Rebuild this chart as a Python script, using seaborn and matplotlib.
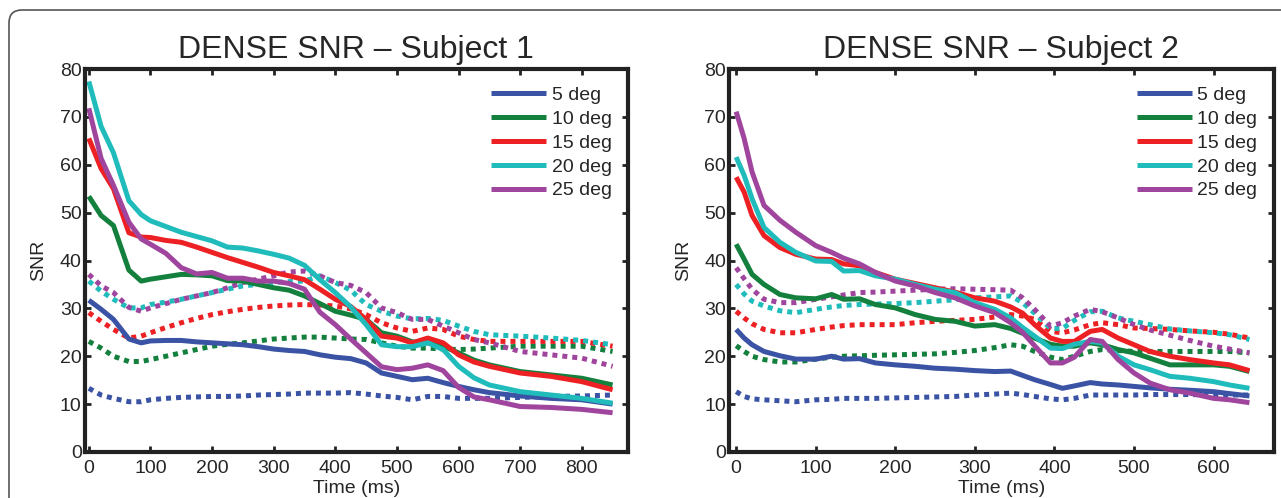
import numpy as np
import pandas as pd
import matplotlib
matplotlib.use("Agg")
import matplotlib.pyplot as plt
from matplotlib.patches import FancyBboxPatch
import seaborn as sns

# ---------------- data ----------------
ANGLES = ["5 deg", "10 deg", "15 deg", "20 deg", "25 deg"]
COLORS = ["#3b53a4", "#14803e", "#ed2024", "#20bcbc", "#a0459e"]

L_TIME = [0, 20, 40, 65, 85, 100, 125, 150, 175, 200, 225, 250, 275, 300, 325, 350,
          375, 400, 425, 450, 475, 500, 525, 550, 575, 600, 625, 650, 700, 750, 800, 850]

L_SOLID_5 = [31.7, 29.8, 27.7, 23.6, 22.8, 23.2, 23.3, 23.3, 23.0, 22.8, 22.6, 22.4, 22.0, 21.5, 21.2, 21.0,
             20.3, 19.8, 19.5, 18.6, 16.5, 15.8, 15.1, 15.4, 14.5, 13.7, 13.0, 12.4, 11.7, 11.2, 10.9, 10.0]
L_SOLID_10 = [53.4, 49.4, 47.3, 38.0, 35.7, 36.1, 36.6, 37.1, 37.0, 36.8, 35.8, 35.7, 35.0, 34.3, 33.8, 32.6,
              31.0, 29.4, 28.6, 27.7, 24.9, 24.2, 23.0, 22.8, 22.1, 20.7, 19.2, 18.2, 16.8, 16.1, 15.4, 14.0]
L_SOLID_15 = [65.5, 59.2, 55.0, 45.8, 44.9, 44.8, 44.2, 43.8, 42.8, 41.7, 40.6, 39.6, 38.6, 37.5, 36.8, 36.0,
              34.0, 31.9, 30.4, 27.7, 24.2, 23.8, 22.8, 23.8, 22.8, 20.3, 18.8, 17.9, 16.5, 15.8, 14.7, 13.0]
L_SOLID_20 = [77.4, 68.0, 62.5, 52.5, 49.6, 48.3, 47.1, 45.9, 45.0, 44.1, 42.8, 42.6, 42.0, 41.3, 40.5, 39.0,
              36.0, 33.3, 30.3, 26.6, 22.4, 22.0, 22.0, 22.8, 21.4, 17.9, 15.5, 14.0, 12.6, 11.9, 11.2, 10.2]
L_SOLID_25 = [71.8, 61.3, 55.7, 48.0, 44.5, 43.4, 41.5, 38.5, 37.2, 37.5, 36.3, 36.3, 35.7, 35.7, 35.2, 34.0,
              29.2, 26.6, 23.6, 20.7, 17.8, 17.2, 17.5, 18.2, 17.0, 13.5, 11.5, 10.9, 9.5, 9.3, 8.9, 8.2]

L_DOT_5 = [13.3, 11.9, 11.2, 10.5, 10.5, 10.9, 11.2, 11.4, 11.5, 11.6, 11.6, 11.7, 11.9, 12.0, 12.1, 12.3,
           12.3, 12.3, 12.4, 12.1, 11.7, 11.4, 10.9, 11.6, 11.6, 11.2, 11.2, 11.2, 11.4, 11.6, 11.7, 11.9]
L_DOT_10 = [23.1, 21.7, 20.0, 18.9, 18.9, 19.3, 20.0, 20.7, 21.4, 22.1, 22.5, 22.8, 23.2, 23.6, 23.8, 24.0,
            24.0, 23.8, 23.6, 23.5, 22.8, 22.1, 21.7, 21.7, 21.5, 21.4, 21.5, 21.7, 22.1, 22.1, 22.1, 21.0]
L_DOT_15 = [29.1, 27.3, 25.6, 23.8, 24.2, 24.9, 26.0, 27.0, 27.9, 28.7, 29.3, 29.8, 30.2, 30.5, 30.7, 30.8,
            30.7, 30.5, 29.9, 28.7, 27.0, 25.9, 25.2, 25.9, 25.6, 24.2, 23.5, 23.1, 23.1, 23.1, 23.1, 22.1]
L_DOT_20 = [35.7, 33.6, 31.9, 30.1, 30.1, 30.8, 31.3, 31.9, 32.6, 33.3, 34.0, 34.7, 35.0, 35.4, 35.6, 35.7,
            36.8, 35.4, 33.8, 30.8, 29.4, 28.4, 27.8, 27.9, 27.5, 26.3, 25.2, 24.5, 24.2, 23.8, 23.3, 22.4]
L_DOT_25 = [37.1, 34.7, 33.3, 30.2, 29.4, 30.1, 31.0, 31.9, 32.6, 33.3, 34.3, 35.4, 36.1, 36.8, 37.6, 37.8,
            36.8, 35.4, 34.8, 33.3, 30.1, 29.1, 27.7, 27.7, 26.3, 24.9, 23.5, 22.8, 21.0, 20.3, 19.6, 17.9]

R_TIME = [0, 10, 20, 35, 55, 75, 100, 120, 135, 155, 175, 200, 225, 250, 275, 300, 325,
          345, 360, 375, 395, 410, 425, 445, 460, 480, 500, 520, 545, 570, 600, 620, 645]

R_SOLID_5 = [25.6, 23.8, 22.4, 21.0, 20.1, 19.4, 19.4, 20.0, 19.4, 19.5, 18.6, 18.2, 17.9, 17.5, 17.3, 17.0, 16.8,
             16.9, 16.0, 15.1, 14.1, 13.3, 13.8, 14.5, 14.2, 14.0, 13.7, 13.4, 13.1, 12.9, 12.6, 12.2, 11.7]
R_SOLID_10 = [43.4, 40.3, 37.1, 35.0, 32.9, 32.2, 32.0, 32.9, 31.9, 32.0, 30.8, 30.1, 28.7, 27.7, 27.3, 26.3, 26.6,
              25.8, 24.8, 23.8, 22.5, 22.1, 22.1, 22.8, 22.4, 21.4, 20.7, 19.6, 18.2, 18.2, 18.2, 17.9, 16.8]
R_SOLID_15 = [57.4, 54.3, 49.4, 45.2, 42.7, 41.3, 40.3, 40.2, 39.3, 38.9, 37.5, 36.1, 35.2, 34.3, 33.4, 32.2, 31.5,
              30.3, 29.0, 26.6, 23.8, 23.1, 23.1, 25.2, 25.6, 23.8, 22.4, 21.0, 20.0, 19.3, 18.6, 18.2, 17.0]
R_SOLID_20 = [61.6, 57.8, 52.9, 46.9, 43.8, 41.7, 39.9, 39.8, 37.8, 37.9, 36.8, 36.1, 35.0, 34.0, 33.3, 31.2, 29.8,
              28.0, 26.0, 24.2, 21.7, 21.6, 22.5, 23.1, 22.8, 20.0, 18.2, 17.2, 15.8, 15.4, 14.7, 14.0, 13.3]
R_SOLID_25 = [71.1, 65.5, 58.5, 51.5, 48.4, 45.9, 43.1, 41.7, 40.5, 39.3, 37.5, 35.7, 34.7, 33.3, 32.2, 30.5, 29.1,
              27.0, 25.0, 22.2, 18.6, 18.6, 19.8, 23.5, 23.1, 19.3, 16.5, 14.4, 13.0, 12.3, 11.2, 10.9, 10.3]

R_DOT_5 = [12.6, 11.6, 11.1, 10.9, 10.7, 10.5, 10.9, 11.0, 11.2, 11.2, 11.2, 11.3, 11.4, 11.5, 11.6, 11.9, 12.1,
           12.3, 12.0, 11.6, 11.1, 10.9, 11.2, 11.9, 11.9, 11.9, 11.9, 12.0, 12.0, 12.0, 11.9, 11.9, 11.9]
R_DOT_10 = [22.2, 21.0, 20.0, 19.3, 18.8, 18.8, 19.4, 19.8, 20.0, 20.1, 20.2, 20.3, 20.4, 20.5, 20.8, 21.2, 21.8,
            22.4, 22.1, 21.0, 19.8, 19.3, 20.0, 21.0, 21.4, 21.2, 21.0, 21.0, 21.0, 21.0, 21.0, 21.0, 20.7]
R_DOT_15 = [29.4, 28.0, 26.8, 25.6, 24.9, 24.9, 25.6, 26.1, 26.4, 26.6, 26.6, 26.6, 27.0, 27.3, 27.5, 27.7, 28.2,
            28.7, 28.4, 27.7, 25.2, 24.9, 25.5, 26.6, 27.0, 26.6, 25.9, 25.8, 25.6, 25.3, 25.0, 24.6, 23.8]
R_DOT_20 = [35.0, 33.0, 31.5, 30.5, 29.5, 29.1, 29.8, 30.3, 30.6, 30.8, 30.9, 31.0, 31.2, 31.5, 31.8, 32.2, 32.4,
            32.6, 31.2, 29.0, 25.8, 25.8, 27.5, 29.3, 29.4, 28.0, 27.3, 26.6, 25.7, 25.3, 24.9, 24.5, 23.5]
R_DOT_25 = [38.5, 36.2, 34.0, 31.9, 31.2, 31.2, 31.9, 32.4, 32.8, 33.3, 33.4, 33.6, 33.8, 34.0, 34.1, 34.0, 33.9,
            33.8, 32.2, 29.8, 26.3, 27.0, 28.4, 29.8, 29.3, 28.0, 26.6, 25.5, 24.4, 23.3, 22.1, 21.5, 20.7]

TITLES = ["DENSE SNR \u2013 Subject 1", "DENSE SNR \u2013 Subject 2"]
X_TICKS_1 = [0, 100, 200, 300, 400, 500, 600, 700, 800]
X_TICKS_2 = [0, 100, 200, 300, 400, 500, 600]
Y_TICKS = [0, 10, 20, 30, 40, 50, 60, 70, 80]

# ---------------- style ----------------
sns.set_style("ticks")
plt.rcParams["font.family"] = ["Liberation Sans", "DejaVu Sans"]
plt.rcParams["axes.linewidth"] = 3.0
plt.rcParams["xtick.direction"] = "in"
plt.rcParams["ytick.direction"] = "in"

W, H = 1281, 498
fig = plt.figure(figsize=(W / 100, H / 100), dpi=100)
fig.patch.set_facecolor("white")

# rounded outer border
border = FancyBboxPatch((0.09, -0.5), 13.5, 4.88 + 0.5,
                        boxstyle="round,pad=0,rounding_size=0.13",
                        transform=fig.dpi_scale_trans, fill=False,
                        edgecolor="#555555", linewidth=1.2, zorder=0)
fig.patches.append(border)

panels = [
    dict(time=L_TIME,
         solid=[L_SOLID_5, L_SOLID_10, L_SOLID_15, L_SOLID_20, L_SOLID_25],
         dot=[L_DOT_5, L_DOT_10, L_DOT_15, L_DOT_20, L_DOT_25],
         xticks=X_TICKS_1, xlim=(-7, 875), pos=[84.5 / W, 0.0924, 543.5 / W, 0.769]),
    dict(time=R_TIME,
         solid=[R_SOLID_5, R_SOLID_10, R_SOLID_15, R_SOLID_20, R_SOLID_25],
         dot=[R_DOT_5, R_DOT_10, R_DOT_15, R_DOT_20, R_DOT_25],
         xticks=X_TICKS_2, xlim=(-9, 675.5), pos=[729 / W, 0.0924, 544.7 / W, 0.769]),
]

for i, p in enumerate(panels):
    ax = fig.add_axes(p["pos"])
    t = np.array(p["time"])
    handles = []
    for k in range(5):
        sns.lineplot(x=t, y=np.array(p["dot"][k]), ax=ax, color=COLORS[k],
                     linewidth=3.6, linestyle=(0, (1, 1)), legend=False)
    for k in range(5):
        sns.lineplot(x=t, y=np.array(p["solid"][k]), ax=ax, color=COLORS[k],
                     linewidth=3.6, legend=False, solid_capstyle="butt")
        handles.append(ax.lines[-1])
    ax.set_xlim(*p["xlim"])
    ax.set_ylim(0, 80)
    ax.set_xticks(p["xticks"])
    ax.set_yticks(Y_TICKS)
    ax.tick_params(axis="both", which="major", labelsize=14, length=4, width=2,
                   top=True, right=True, color="#222222")
    ax.tick_params(axis="y", pad=2)
    ax.tick_params(axis="x", pad=6)
    for s in ax.spines.values():
        s.set_visible(True)
        s.set_color("#222222")
        s.set_linewidth(3.0)
    ax.set_xlabel("Time (ms)", fontsize=14, labelpad=2)
    ax.set_ylabel("SNR", fontsize=14, labelpad=9)
    ax.set_title(TITLES[i], fontsize=23, pad=8)
    leg = ax.legend(handles, ANGLES, loc="upper right", frameon=False, fontsize=14,
                    handlelength=2.8, handletextpad=0.3, labelspacing=0.32,
                    borderaxespad=0.3, bbox_to_anchor=(0.995, 0.99))

fig.savefig("out.png", dpi=100, facecolor="white")
